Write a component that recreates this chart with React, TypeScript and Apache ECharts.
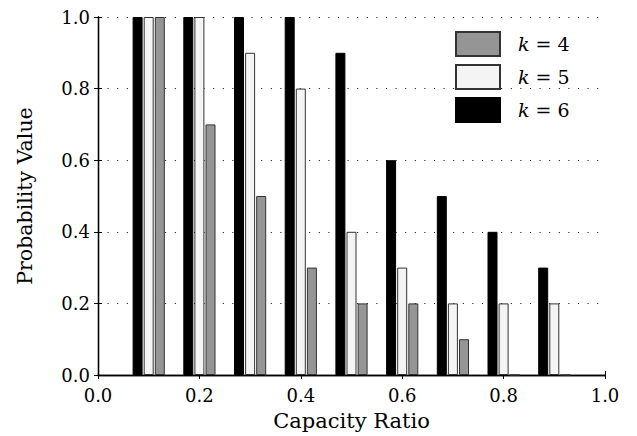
import React, { useEffect, useRef } from "react";
import * as echarts from "echarts";

const capacityRatios = [0.1, 0.2, 0.3, 0.4, 0.5, 0.6, 0.7, 0.8, 0.9];
const k6Values = [1.0, 1.0, 1.0, 1.0, 0.9, 0.6, 0.5, 0.4, 0.3];
const k5Values = [1.0, 1.0, 0.9, 0.8, 0.4, 0.3, 0.2, 0.2, 0.2];
const k4Values = [1.0, 0.7, 0.5, 0.3, 0.2, 0.2, 0.1, 0.0, 0.0];
const seriesNames = ["k = 6", "k = 5", "k = 4"];
const legendOrder = ["k = 4", "k = 5", "k = 6"];

const FONT = "DejaVu Serif";

export default function App() {
  const ref = useRef<HTMLDivElement>(null);
  useEffect(() => {
    document.body.style.margin = "0";
    const chart = echarts.init(ref.current!, null, { renderer: "svg" });
    const pair = (vals: number[]) => capacityRatios.map((x, i) => [x, vals[i]]);
    const styles = [
      { color: "#000000", borderColor: "#000000", borderWidth: 1 },
      { color: "#f4f4f4", borderColor: "#333333", borderWidth: 1 },
      { color: "#959595", borderColor: "#333333", borderWidth: 1 },
    ];
    const values = [k6Values, k5Values, k4Values];
    const frameLine = { show: true, lineStyle: { color: "#000", width: 1.3 } };
    const tickIn = { show: true, inside: true, length: 4, lineStyle: { color: "#000", width: 1 } };
    chart.setOption({
      animation: false,
      backgroundColor: "#ffffff",
      grid: { left: 98, right: 32, top: 17, bottom: 59, containLabel: false },
      legend: {
        data: legendOrder,
        orient: "vertical",
        left: 455,
        top: 31,
        itemWidth: 44,
        itemHeight: 24,
        itemGap: 7,
        padding: 0,
        icon: "rect",
        formatter: (name: string) => `{i|k} = ${name.slice(-1)}`,
        textStyle: {
          fontFamily: FONT,
          fontSize: 19,
          color: "#000",
          padding: [0, 0, 0, 13],
          rich: { i: { fontStyle: "italic", fontFamily: FONT, fontSize: 19, color: "#000" } },
        },
      },
      xAxis: [
        {
          type: "value",
          min: 0,
          max: 1,
          interval: 0.2,
          name: "Capacity Ratio",
          nameLocation: "middle",
          nameGap: 35,
          nameTextStyle: { fontFamily: FONT, fontSize: 21, color: "#000" },
          axisLine: frameLine,
          axisTick: tickIn,
          splitLine: { show: false },
          axisLabel: {
            fontFamily: FONT,
            fontSize: 18,
            color: "#000",
            margin: 11,
            formatter: (v: number) => v.toFixed(1),
          },
        },
        {
          type: "value",
          position: "top",
          min: 0,
          max: 1,
          interval: 0.2,
          axisLine: frameLine,
          axisTick: tickIn,
          axisLabel: { show: false },
          splitLine: { show: false },
        },
      ],
      yAxis: [
        {
          type: "value",
          min: 0,
          max: 1,
          interval: 0.2,
          name: "Probability Value",
          nameLocation: "middle",
          nameGap: 63,
          nameTextStyle: { fontFamily: FONT, fontSize: 20.5, color: "#000" },
          axisLine: frameLine,
          axisTick: tickIn,
          splitLine: { show: true, lineStyle: { color: "#000", width: 1, type: [1, 8.6] } },
          axisLabel: {
            fontFamily: FONT,
            fontSize: 18,
            color: "#000",
            margin: 8,
            formatter: (v: number) => v.toFixed(1),
          },
        },
        {
          type: "value",
          position: "right",
          min: 0,
          max: 1,
          interval: 0.2,
          axisLine: frameLine,
          axisTick: tickIn,
          axisLabel: { show: false },
          splitLine: { show: false },
        },
      ],
      series: seriesNames.map((name, i) => ({
        name,
        type: "bar",
        xAxisIndex: 0,
        yAxisIndex: 0,
        data: pair(values[i]),
        barWidth: 10,
        barGap: "11%",
        itemStyle: styles[i],
        clip: true,
      })),
    });
    return () => chart.dispose();
  }, []);
  return <div ref={ref} style={{ width: 637, height: 436 }} />;
}
